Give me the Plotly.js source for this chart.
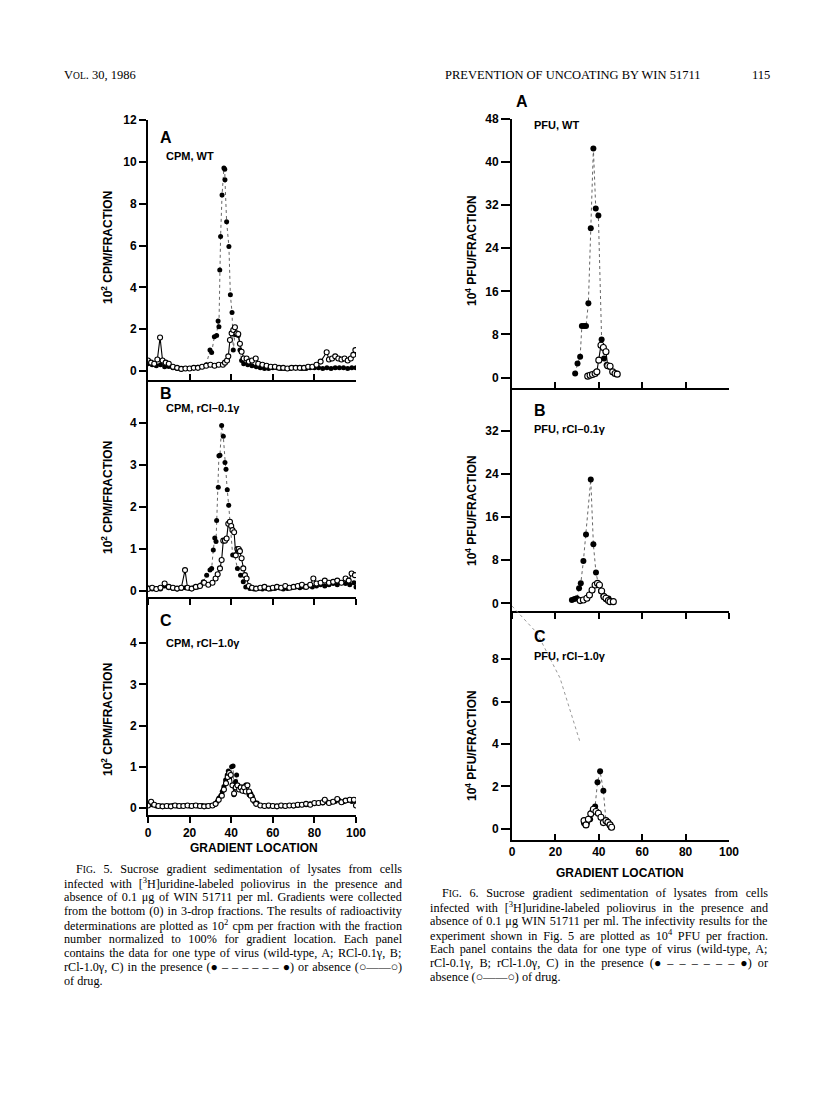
<!DOCTYPE html>
<html>
<head>
<meta charset="utf-8">
<script src="https://cdn.plot.ly/plotly-3.0.1.min.js"></script>
<style>
html,body{margin:0;padding:0;background:#fff;}
#chart{width:816px;height:1097px;}
</style>
</head>
<body>
<div id="chart"></div>
<script>
// ---------------- DATA ----------------
// Fig. 5 — 10^2 CPM per fraction vs gradient location
const cpmA_drug_x = [0,2,4,6,8,10,12,14,16,18,20,22,24,26,28,29.8,30.6,31.9,33.0,33.7,34.1,34.5,34.9,35.6,36.5,36.9,37.0,37.8,38.9,39.6,40.4,41.0,41.8,42.6,43.4,44.2,45.0,46,48,50,52,54,56,58,60,62,64,66,68,70,72,74,76,78,80,82,84,86,88,90,92,94,96,98,100];
const cpmA_drug_y = [0.35,0.3,0.25,0.3,0.2,0.22,0.15,0.12,0.1,0.12,0.12,0.15,0.18,0.2,0.3,1.0,0.88,1.64,1.7,2.39,2.12,4.83,6.43,8.42,9.7,9.65,9.14,7.14,5.95,3.64,2.8,1.0,1.75,1.75,1.7,1.0,0.5,0.35,0.3,0.25,0.2,0.15,0.12,0.12,0.15,0.15,0.12,0.12,0.12,0.15,0.15,0.12,0.12,0.15,0.15,0.15,0.12,0.15,0.12,0.15,0.15,0.15,0.12,0.15,0.15];
const cpmA_none_x = [0,1.5,3,4.5,5.8,7,8.5,10,12,14,16,18,20,22,24,26,28,30,32,34,36,37,38,38.6,39.4,40.2,41.0,41.8,42.6,43.4,44.2,45.0,46,47.4,48.5,50,51.8,53,55,57,59,61,63,65,67,69,71,73,75,77,79,81,83,85.9,87,88.5,90,91.5,93,94.5,96,97.5,98.7,99.7];
const cpmA_none_y = [0.5,0.4,0.35,0.55,1.6,0.5,0.4,0.35,0.2,0.15,0.1,0.12,0.12,0.15,0.15,0.2,0.25,0.3,0.25,0.3,0.3,0.4,0.5,0.7,1.48,1.8,1.96,2.09,1.8,1.77,1.3,0.92,0.6,0.6,0.45,0.5,0.6,0.35,0.3,0.25,0.2,0.2,0.15,0.15,0.12,0.15,0.15,0.15,0.15,0.2,0.2,0.3,0.45,0.9,0.55,0.6,0.7,0.6,0.55,0.6,0.5,0.6,0.77,1.0];

const cpmB_drug_x = [0,2,4,6,8,10,12,14,16,18,20,22,24,25.5,26.6,28.2,29.8,30.6,31.4,32.1,32.7,33.0,33.8,34.1,34.6,35.4,36.2,37.0,37.5,38.1,38.8,39.4,40.7,41.6,43,44.5,45.8,47,49,51,53,55,57,59,61,63,65,67,69,71,73,75,77,79,81,83,85,87,89,91,93,95,97,99,100];
const cpmB_drug_y = [0.08,0.05,0.06,0.05,0.12,0.08,0.06,0.05,0.06,0.08,0.06,0.08,0.1,0.15,0.22,0.38,0.5,0.54,0.98,1.26,1.18,1.68,2.47,3.22,3.23,3.94,3.68,3.06,2.9,2.41,2.04,1.65,0.86,0.86,0.54,0.38,0.22,0.1,0.06,0.05,0.06,0.05,0.06,0.05,0.06,0.08,0.05,0.06,0.08,0.1,0.08,0.1,0.12,0.1,0.12,0.15,0.12,0.15,0.18,0.15,0.2,0.18,0.15,0.2,0.1];
const cpmB_none_x = [0,2,4,6,8,10,12,14,16,17.8,19,21,23,25,27,29,31,32.5,33.5,34.6,35.4,36.2,37,37.8,38.6,39.4,40.0,40.6,41.4,42.2,43,43.6,44.2,45,45.8,46.6,47.4,48.5,50,52,54,56,58,60,62,64,66,68,70,72,74,76,78,79.5,81,83,85,87,89,91,93,95,96.5,97.9,99.5];
const cpmB_none_y = [0.05,0.08,0.05,0.08,0.18,0.1,0.08,0.06,0.08,0.5,0.08,0.06,0.1,0.12,0.2,0.15,0.2,0.3,0.4,0.54,0.74,1.2,1.2,1.25,1.6,1.65,1.55,1.45,1.4,0.85,1.0,1.0,0.95,0.78,0.54,0.38,0.3,0.12,0.08,0.06,0.08,0.1,0.06,0.08,0.1,0.08,0.12,0.08,0.1,0.12,0.15,0.1,0.15,0.3,0.18,0.2,0.25,0.2,0.22,0.25,0.2,0.3,0.25,0.42,0.38];

const cpmC_drug_x = [0,2,4,6,8,10,12,14,16,18,20,22,24,26,28,30,32,33.3,34.1,35.0,35.7,36.5,37.3,38.1,38.6,39.4,40.2,40.9,41.3,42.1,42.6,43.0,43.8,44.6,45.4,46.2,47.0,47.8,48.6,49.4,50.2,51,52.5,54,56,58,60,62,64,66,68,70,72,74,76,78,80,82,84,86,88,90,92,94,96,98,100];
const cpmC_drug_y = [0.1,0.08,0.05,0.05,0.04,0.05,0.06,0.05,0.05,0.06,0.05,0.06,0.05,0.06,0.05,0.06,0.08,0.16,0.24,0.3,0.4,0.52,0.68,0.8,0.9,0.76,1.0,1.02,0.32,0.64,0.8,0.52,0.48,0.45,0.48,0.4,0.56,0.4,0.32,0.35,0.28,0.16,0.12,0.06,0.05,0.04,0.05,0.04,0.05,0.05,0.06,0.05,0.06,0.08,0.08,0.1,0.1,0.12,0.12,0.15,0.14,0.16,0.18,0.15,0.18,0.16,0.15];
const cpmC_none_x = [0,1.5,3,5,7,9,11,13,15,17,19,21,23,25,27,29,31,32.5,34,35.5,36.5,37.5,38.3,39,39.8,40.6,41.4,42.2,43,43.8,44.6,45.4,46.2,47,47.8,48.6,49.4,50.5,52,54,56,58,60,62,64,66,68,70,72,74,76,78,80,82,84,85,87,89,91,93,95,97,99,100];
const cpmC_none_y = [0.06,0.15,0.08,0.05,0.04,0.05,0.04,0.06,0.05,0.05,0.06,0.05,0.06,0.05,0.04,0.05,0.06,0.1,0.2,0.3,0.45,0.6,0.75,0.85,0.8,0.55,0.35,0.5,0.55,0.45,0.5,0.42,0.5,0.4,0.55,0.4,0.3,0.2,0.1,0.06,0.05,0.06,0.05,0.04,0.06,0.05,0.06,0.06,0.08,0.08,0.1,0.08,0.12,0.12,0.14,0.2,0.12,0.15,0.22,0.14,0.18,0.2,0.2,0.06];

// Fig. 6 — 10^4 PFU per fraction vs gradient location
const pfuA_drug_x = [29.1,30.2,31.4,32.2,33.2,34.1,35.2,36.3,37.5,38.6,39.8,41.3,42.4,43.6,45.0,46.5];
const pfuA_drug_y = [0.74,2.6,3.84,9.55,9.55,9.55,13.8,27.7,42.5,31.4,30.1,7.07,3.53,2.3,2.0,1.0];
const pfuA_none_x = [34.9,36.0,37.1,38.3,39.1,40.0,41.0,42.1,43.3,44.1,45.2,46.4,47.5,48.5];
const pfuA_none_y = [0.25,0.43,0.56,0.74,1.05,3.22,6.0,5.58,4.78,2.17,2.1,1.05,0.74,0.62];

const pfuB_drug_x = [27.6,28.8,29.9,30.9,31.7,32.9,34.1,36.3,37.5,38.7,39.8,41.0,42.1,43.3,44.5];
const pfuB_drug_y = [0.62,0.8,0.93,2.78,3.71,7.86,12.8,23.0,10.95,5.7,3.6,2.3,1.36,0.74,0.9];
const pfuB_none_x = [31.4,32.9,34.5,35.7,36.9,38.3,39.4,40.3,41.3,42.4,43.3,44.4,45.2,46.7];
const pfuB_none_y = [0.5,0.62,0.93,1.55,2.48,3.4,3.71,3.4,2.29,1.24,0.93,0.5,0.31,0.31];

const pfuC_drug_x = [33.2,34.5,36.0,37.1,38.3,39.4,40.6,42.1,43.3,44.4,45.5];
const pfuC_drug_y = [0.27,0.27,0.46,0.82,1.06,2.2,2.72,1.8,0.39,0.27,0.08];
const pfuC_none_x = [33.2,34.1,35.2,36.3,37.5,38.7,39.8,41.0,42.1,43.3,44.2,45.2,45.9];
const pfuC_none_y = [0.39,0.19,0.46,0.71,0.93,0.82,0.74,0.55,0.3,0.39,0.31,0.19,0.08];

const xTicks = [0,20,40,60,80,100];
const cpmTicksA = [0,2,4,6,8,10,12];
const cpmTicksBC = [0,1,2,3,4];
const pfuTicksA = [0,8,16,24,32,40,48];
const pfuTicksB = [0,8,16,24,32];
const pfuTicksC = [0,2,4,6,8];

const panelLetters = ['A','B','C'];
const cpmLabels = ['CPM, WT','CPM, rCl\u20130.1\u03b3','CPM, rCl\u20131.0\u03b3'];
const pfuLabels = ['PFU, WT','PFU, rCl\u20130.1\u03b3','PFU, rCl\u20131.0\u03b3'];
const cpmYTitle = '10<sup>2</sup> CPM/FRACTION';
const pfuYTitle = '10<sup>4</sup> PFU/FRACTION';
const xTitle = 'GRADIENT LOCATION';

const headerLeft = 'V<span style="font-size:9.5px">OL</span>. 30, 1986';
const headerRight = 'PREVENTION OF UNCOATING BY WIN 51711';
const pageNumber = '115';

const caption5 = [
 'F<span style="font-size:9.5px">IG</span>. 5. Sucrose gradient sedimentation of lysates from cells',
 'infected with [<sup>3</sup>H]uridine-labeled poliovirus in the presence and',
 'absence of 0.1 \u03bcg of WIN 51711 per ml. Gradients were collected',
 'from the bottom (0) in 3-drop fractions. The results of radioactivity',
 'determinations are plotted as 10<sup>2</sup> cpm per fraction with the fraction',
 'number normalized to 100% for gradient location. Each panel',
 'contains the data for one type of virus (wild-type, A; RCl-0.1\u03b3, B;',
 'rCl-1.0\u03b3, C) in the presence (\u25cf \u2013 \u2013 \u2013 \u2013 \u2013 \u2013 \u25cf) or absence (\u25cb\u2014\u2014\u25cb)',
 'of drug.'
];
const caption6 = [
 'F<span style="font-size:9.5px">IG</span>. 6. Sucrose gradient sedimentation of lysates from cells',
 'infected with [<sup>3</sup>H]uridine-labeled poliovirus in the presence and',
 'absence of 0.1 \u03bcg WIN 51711 per ml. The infectivity results for the',
 'experiment shown in Fig. 5 are plotted as 10<sup>4</sup> PFU per fraction.',
 'Each panel contains the data for one type of virus (wild-type, A;',
 'rCl-0.1\u03b3, B; rCl-1.0\u03b3, C) in the presence (\u25cf \u2013 \u2013 \u2013 \u2013 \u2013 \u2013 \u25cf) or',
 'absence (\u25cb\u2014\u2014\u25cb) of drug.'
];

// ---------------- LAYOUT HELPERS ----------------
const W = 816, H = 1097;
const PX = x => x / W;
const PY = y => 1 - y / H;
const SANS = 'Liberation Sans, Arial, sans-serif';
const SERIF = 'Liberation Serif, Times New Roman, serif';

function drugTrace(x, y, xa, ya, size) {
  return {x, y, xaxis: xa, yaxis: ya, type: 'scatter', mode: 'lines+markers',
    line: {color: '#555', width: 0.9, dash: 'dot'},
    marker: {color: '#000', size: size, line: {width: 0}},
    showlegend: false, hoverinfo: 'skip'};
}
function noneTrace(x, y, xa, ya, size) {
  return {x, y, xaxis: xa, yaxis: ya, type: 'scatter', mode: 'lines+markers',
    line: {color: '#000', width: 1.1},
    marker: {color: '#fff', size: size, line: {color: '#000', width: 1.1}},
    showlegend: false, hoverinfo: 'skip'};
}

const data = [
  drugTrace(cpmA_drug_x, cpmA_drug_y, 'x', 'y', 5),
  noneTrace(cpmA_none_x, cpmA_none_y, 'x', 'y', 5),
  drugTrace(cpmB_drug_x, cpmB_drug_y, 'x2', 'y2', 5),
  noneTrace(cpmB_none_x, cpmB_none_y, 'x2', 'y2', 5),
  drugTrace(cpmC_drug_x, cpmC_drug_y, 'x3', 'y3', 5),
  noneTrace(cpmC_none_x, cpmC_none_y, 'x3', 'y3', 5),
  drugTrace(pfuA_drug_x, pfuA_drug_y, 'x4', 'y4', 6),
  noneTrace(pfuA_none_x, pfuA_none_y, 'x4', 'y4', 6),
  drugTrace(pfuB_drug_x, pfuB_drug_y, 'x5', 'y5', 6),
  noneTrace(pfuB_none_x, pfuB_none_y, 'x5', 'y5', 6),
  drugTrace(pfuC_drug_x, pfuC_drug_y, 'x6', 'y6', 6),
  noneTrace(pfuC_none_x, pfuC_none_y, 'x6', 'y6', 6)
];

const tickFont = {family: SANS, size: 12, color: '#000', weight: 'bold'};
function xAxis(domain, anchor, ticks, labels) {
  return {domain, anchor, range: [0, 100], tickvals: xTicks, ticktext: xTicks.map(String),
    showline: true, linecolor: '#000', linewidth: 2, ticks: ticks, ticklen: 6, tickwidth: 2,
    tickcolor: '#000', showticklabels: labels, tickfont: tickFont, showgrid: false,
    zeroline: false, fixedrange: true};
}
function yAxis(domain, anchor, range, tickvals, len) {
  return {domain, anchor, range, tickvals, ticktext: tickvals.map(String),
    showline: true, linecolor: '#000', linewidth: 2, ticks: 'outside', ticklen: len, tickwidth: 2,
    tickcolor: '#000', tickfont: tickFont, showgrid: false, zeroline: false, fixedrange: true};
}

const d5 = [PX(148), PX(356)];
const d6 = [PX(512), PX(729)];

const layout = {
  width: W, height: H, margin: {l: 0, r: 0, t: 0, b: 0},
  paper_bgcolor: '#fff', plot_bgcolor: 'rgba(0,0,0,0)', showlegend: false,
  xaxis:  xAxis(d5, 'y', 'inside', false),
  yaxis:  yAxis([PY(380), PY(120)], 'x', [-0.43, 12], cpmTicksA, 7),
  xaxis2: xAxis(d5, 'y2', 'outside', false),
  yaxis2: yAxis([PY(597), PY(380)], 'x2', [-0.14, 5.02], cpmTicksBC, 7),
  xaxis3: xAxis(d5, 'y3', 'outside', true),
  yaxis3: yAxis([PY(815), PY(597)], 'x3', [-0.17, 5.12], cpmTicksBC, 7),
  xaxis4: xAxis(d6, 'y4', 'inside', false),
  yaxis4: yAxis([PY(388), PY(119)], 'x4', [-1.95, 48], pfuTicksA, 9),
  xaxis5: xAxis(d6, 'y5', 'outside', false),
  yaxis5: yAxis([PY(611), PY(388)], 'x5', [-1.43, 40.0], pfuTicksB, 9),
  xaxis6: xAxis(d6, 'y6', 'inside', true),
  yaxis6: yAxis([PY(840), PY(611)], 'x6', [-0.52, 10.26], pfuTicksC, 9),
  annotations: [],
  shapes: [
    {type: 'path', xref: 'paper', yref: 'paper',
     path: 'M ' + PX(512) + ',' + PY(606) + ' L ' + PX(537) + ',' + PY(633) +
           ' L ' + PX(560) + ',' + PY(678) + ' L ' + PX(580) + ',' + PY(742),
     line: {color: '#9a9a9a', width: 1, dash: 'dot'}}
  ]
};

const A = layout.annotations;
function txt(text, x, y, font, opts) {
  A.push(Object.assign({text, x: PX(x), y: PY(y), xref: 'paper', yref: 'paper',
    showarrow: false, xanchor: 'left', yanchor: 'middle', font}, opts || {}));
}
const letterFont = {family: SANS, size: 16, color: '#000', weight: 'bold'};
const labelFont = {family: SANS, size: 11, color: '#000', weight: 'bold'};
const titleFont = {family: SANS, size: 12, color: '#000', weight: 'bold'};
const serifFont = {family: SERIF, size: 12.5, color: '#000'};
const CAP_SIZE = 12.2;
const capFont = {family: SERIF, size: CAP_SIZE, color: '#000'};

// header
txt(headerLeft, 62, 75, serifFont);
txt(headerRight, 443, 75, serifFont);
txt(pageNumber, 750, 75, serifFont);

// panel texts
const f5LetterY = [137, 393, 620], f5LabelY = [156, 408, 643];
const f6LetterY = [101, 411, 636], f6LabelY = [125, 429, 656];
for (let i = 0; i < 3; i++) {
  txt(panelLetters[i], 158, f5LetterY[i], letterFont);
  txt(cpmLabels[i], 164, f5LabelY[i], labelFont);
  txt(panelLetters[i], i === 0 ? 514 : 532, f6LetterY[i], letterFont);
  txt(pfuLabels[i], 532, f6LabelY[i], labelFont);
}
const f5TitleY = [248, 498, 720], f6TitleY = [250, 510, 745];
for (let i = 0; i < 3; i++) {
  txt(cpmYTitle, 107, f5TitleY[i], titleFont, {textangle: -90, xanchor: 'center'});
  txt(pfuYTitle, 471, f6TitleY[i], titleFont, {textangle: -90, xanchor: 'center'});
}
txt(xTitle, 254, 848, titleFont, {xanchor: 'center'});
txt(xTitle, 620, 873, titleFont, {xanchor: 'center'});

// captions, justified with word-spacing measured on a canvas
const ctx = document.createElement('canvas').getContext('2d');
function naturalWidth(html) {
  let w = 0;
  const parts = html.split(/(<span[^>]*>.*?<\/span>|<sup>.*?<\/sup>)/);
  parts.forEach(p => {
    if (!p) return;
    let size = CAP_SIZE, s = p;
    if (p.startsWith('<span')) { size = 9.5; s = p.replace(/<[^>]+>/g, ''); }
    else if (p.startsWith('<sup>')) { size = CAP_SIZE * 0.7; s = p.replace(/<[^>]+>/g, ''); }
    ctx.font = size + 'px "Liberation Serif"';
    w += ctx.measureText(s).width;
  });
  return w;
}
function captionBlock(lines, left, right, indent, y0, lh) {
  lines.forEach((t, i) => {
    const x = i === 0 ? left + indent : left;
    let text = t;
    if (i < lines.length - 1) {
      const plain = t.replace(/<[^>]+>/g, '');
      const n = (plain.match(/ /g) || []).length;
      const extra = ((right - x) - naturalWidth(t)) / Math.max(n, 1);
      if (extra > 0) text = '<span style="word-spacing:' + extra.toFixed(2) + 'px">' + t + '</span>';
    }
    txt(text, x, y0 + i * lh, capFont);
  });
}
captionBlock(caption5, 62, 400, 12, 869, 14);
captionBlock(caption6, 428, 766, 12, 893, 14);

Plotly.newPlot('chart', data, layout, {displayModeBar: false, staticPlot: true});
</script>
</body>
</html>
